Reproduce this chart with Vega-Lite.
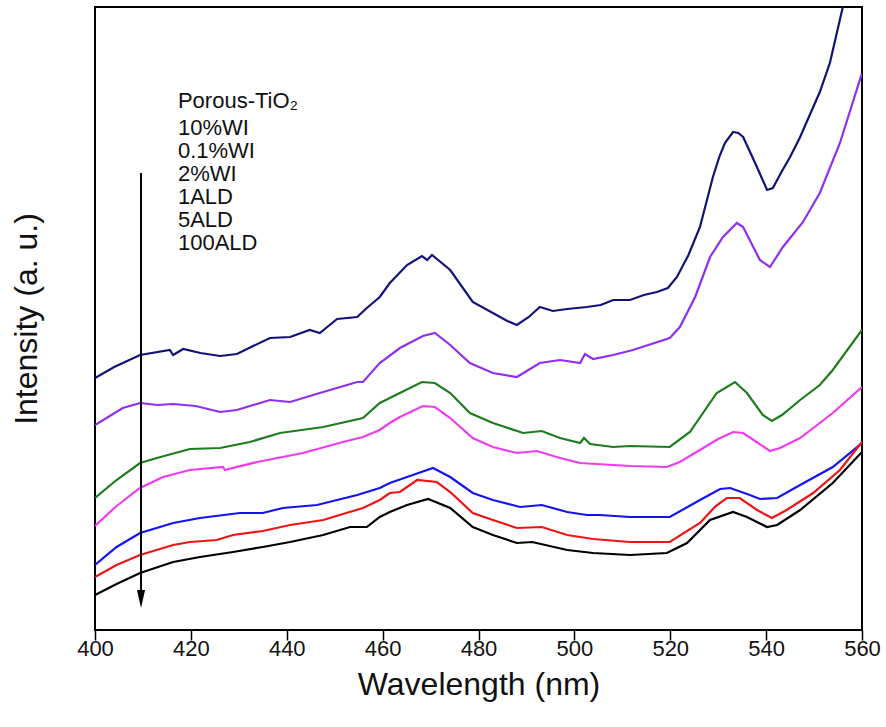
{
  "$schema": "https://vega.github.io/schema/vega-lite/v6.json",
  "autosize": {"type": "none"},
  "padding": {"left": 95, "top": 7, "right": 24, "bottom": 97},
  "width": 767,
  "height": 623,
  "background": "white",
  "config": {
    "font": "Liberation Sans",
    "view": {"stroke": "#000", "strokeWidth": 2}
  },
  "datasets": {
    "spectra": [
      {"s": "Porous-TiO2", "wl": 400, "i": 252}, {"s": "Porous-TiO2", "wl": 404, "i": 263}, {"s": "Porous-TiO2", "wl": 409.4, "i": 275}, {"s": "Porous-TiO2", "wl": 415.6, "i": 280}, {"s": "Porous-TiO2", "wl": 416.3, "i": 275}, {"s": "Porous-TiO2", "wl": 418.4, "i": 281}, {"s": "Porous-TiO2", "wl": 422, "i": 277}, {"s": "Porous-TiO2", "wl": 426.1, "i": 274}, {"s": "Porous-TiO2", "wl": 429.6, "i": 276}, {"s": "Porous-TiO2", "wl": 433, "i": 284}, {"s": "Porous-TiO2", "wl": 436.5, "i": 292}, {"s": "Porous-TiO2", "wl": 440.7, "i": 293}, {"s": "Porous-TiO2", "wl": 444.8, "i": 300}, {"s": "Porous-TiO2", "wl": 446.9, "i": 297}, {"s": "Porous-TiO2", "wl": 450.5, "i": 311}, {"s": "Porous-TiO2", "wl": 454.7, "i": 313}, {"s": "Porous-TiO2", "wl": 456.7, "i": 322}, {"s": "Porous-TiO2", "wl": 459.4, "i": 333}, {"s": "Porous-TiO2", "wl": 461.5, "i": 347}, {"s": "Porous-TiO2", "wl": 465.1, "i": 365}, {"s": "Porous-TiO2", "wl": 468.2, "i": 374}, {"s": "Porous-TiO2", "wl": 469.3, "i": 370}, {"s": "Porous-TiO2", "wl": 470.3, "i": 375}, {"s": "Porous-TiO2", "wl": 474.1, "i": 360}, {"s": "Porous-TiO2", "wl": 478.8, "i": 328}, {"s": "Porous-TiO2", "wl": 483.0, "i": 317}, {"s": "Porous-TiO2", "wl": 486, "i": 309}, {"s": "Porous-TiO2", "wl": 488.0, "i": 305}, {"s": "Porous-TiO2", "wl": 490.5, "i": 313}, {"s": "Porous-TiO2", "wl": 492.8, "i": 323}, {"s": "Porous-TiO2", "wl": 495.5, "i": 319}, {"s": "Porous-TiO2", "wl": 498.5, "i": 321}, {"s": "Porous-TiO2", "wl": 502.6, "i": 323}, {"s": "Porous-TiO2", "wl": 505.5, "i": 325}, {"s": "Porous-TiO2", "wl": 508.1, "i": 330}, {"s": "Porous-TiO2", "wl": 511.6, "i": 330}, {"s": "Porous-TiO2", "wl": 514.5, "i": 335}, {"s": "Porous-TiO2", "wl": 517.2, "i": 338}, {"s": "Porous-TiO2", "wl": 519.5, "i": 342}, {"s": "Porous-TiO2", "wl": 521.4, "i": 353}, {"s": "Porous-TiO2", "wl": 523.8, "i": 375}, {"s": "Porous-TiO2", "wl": 526.2, "i": 403}, {"s": "Porous-TiO2", "wl": 528.9, "i": 453}, {"s": "Porous-TiO2", "wl": 530.3, "i": 474}, {"s": "Porous-TiO2", "wl": 531.4, "i": 487}, {"s": "Porous-TiO2", "wl": 533.1, "i": 498}, {"s": "Porous-TiO2", "wl": 534.2, "i": 497}, {"s": "Porous-TiO2", "wl": 535.2, "i": 493}, {"s": "Porous-TiO2", "wl": 537.8, "i": 466}, {"s": "Porous-TiO2", "wl": 540.2, "i": 440}, {"s": "Porous-TiO2", "wl": 541.4, "i": 442}, {"s": "Porous-TiO2", "wl": 543.2, "i": 458}, {"s": "Porous-TiO2", "wl": 545.0, "i": 473}, {"s": "Porous-TiO2", "wl": 547, "i": 492}, {"s": "Porous-TiO2", "wl": 549.1, "i": 515}, {"s": "Porous-TiO2", "wl": 551.2, "i": 538}, {"s": "Porous-TiO2", "wl": 553.3, "i": 567}, {"s": "Porous-TiO2", "wl": 556.0, "i": 623}, {"s": "Porous-TiO2", "wl": 560, "i": 690},

      {"s": "10%WI", "wl": 400, "i": 205}, {"s": "10%WI", "wl": 405.8, "i": 222}, {"s": "10%WI", "wl": 409.4, "i": 227}, {"s": "10%WI", "wl": 413, "i": 225}, {"s": "10%WI", "wl": 416.3, "i": 226}, {"s": "10%WI", "wl": 421, "i": 224}, {"s": "10%WI", "wl": 426.1, "i": 218}, {"s": "10%WI", "wl": 429.6, "i": 220}, {"s": "10%WI", "wl": 436.5, "i": 230}, {"s": "10%WI", "wl": 440.7, "i": 228}, {"s": "10%WI", "wl": 446.9, "i": 237}, {"s": "10%WI", "wl": 454.7, "i": 248}, {"s": "10%WI", "wl": 455.9, "i": 248}, {"s": "10%WI", "wl": 459.4, "i": 267}, {"s": "10%WI", "wl": 463.6, "i": 282}, {"s": "10%WI", "wl": 468.4, "i": 294}, {"s": "10%WI", "wl": 470.9, "i": 297}, {"s": "10%WI", "wl": 474.1, "i": 285}, {"s": "10%WI", "wl": 478.2, "i": 267}, {"s": "10%WI", "wl": 483.0, "i": 257}, {"s": "10%WI", "wl": 488.0, "i": 253}, {"s": "10%WI", "wl": 492.8, "i": 267}, {"s": "10%WI", "wl": 497.0, "i": 270}, {"s": "10%WI", "wl": 501.2, "i": 267}, {"s": "10%WI", "wl": 502.2, "i": 276}, {"s": "10%WI", "wl": 503.9, "i": 271}, {"s": "10%WI", "wl": 508.1, "i": 275}, {"s": "10%WI", "wl": 512.2, "i": 280}, {"s": "10%WI", "wl": 519.9, "i": 292}, {"s": "10%WI", "wl": 522.0, "i": 303}, {"s": "10%WI", "wl": 525.2, "i": 333}, {"s": "10%WI", "wl": 528.3, "i": 373}, {"s": "10%WI", "wl": 531.0, "i": 393}, {"s": "10%WI", "wl": 533.9, "i": 407}, {"s": "10%WI", "wl": 535.2, "i": 403}, {"s": "10%WI", "wl": 538.7, "i": 370}, {"s": "10%WI", "wl": 540.8, "i": 363}, {"s": "10%WI", "wl": 543.5, "i": 383}, {"s": "10%WI", "wl": 547.7, "i": 408}, {"s": "10%WI", "wl": 551.2, "i": 437}, {"s": "10%WI", "wl": 555.4, "i": 487}, {"s": "10%WI", "wl": 560, "i": 557},

      {"s": "0.1%WI", "wl": 400, "i": 132}, {"s": "0.1%WI", "wl": 404.5, "i": 150}, {"s": "0.1%WI", "wl": 409.4, "i": 167}, {"s": "0.1%WI", "wl": 412.9, "i": 172}, {"s": "0.1%WI", "wl": 419.8, "i": 181}, {"s": "0.1%WI", "wl": 426.1, "i": 182}, {"s": "0.1%WI", "wl": 432.3, "i": 188}, {"s": "0.1%WI", "wl": 438.6, "i": 197}, {"s": "0.1%WI", "wl": 447.6, "i": 203}, {"s": "0.1%WI", "wl": 455.9, "i": 212}, {"s": "0.1%WI", "wl": 459.4, "i": 227}, {"s": "0.1%WI", "wl": 461.5, "i": 232}, {"s": "0.1%WI", "wl": 463.6, "i": 237}, {"s": "0.1%WI", "wl": 468.2, "i": 248}, {"s": "0.1%WI", "wl": 470.9, "i": 247}, {"s": "0.1%WI", "wl": 474.1, "i": 237}, {"s": "0.1%WI", "wl": 478.2, "i": 217}, {"s": "0.1%WI", "wl": 483.0, "i": 207}, {"s": "0.1%WI", "wl": 489.3, "i": 197}, {"s": "0.1%WI", "wl": 493.2, "i": 199}, {"s": "0.1%WI", "wl": 497.0, "i": 192}, {"s": "0.1%WI", "wl": 501.2, "i": 187}, {"s": "0.1%WI", "wl": 502.0, "i": 192}, {"s": "0.1%WI", "wl": 503.3, "i": 186}, {"s": "0.1%WI", "wl": 508.1, "i": 183}, {"s": "0.1%WI", "wl": 511.6, "i": 184}, {"s": "0.1%WI", "wl": 519.9, "i": 183}, {"s": "0.1%WI", "wl": 524.1, "i": 198}, {"s": "0.1%WI", "wl": 529.7, "i": 237}, {"s": "0.1%WI", "wl": 533.5, "i": 248}, {"s": "0.1%WI", "wl": 536.0, "i": 237}, {"s": "0.1%WI", "wl": 539.3, "i": 215}, {"s": "0.1%WI", "wl": 541.2, "i": 209}, {"s": "0.1%WI", "wl": 543.3, "i": 215}, {"s": "0.1%WI", "wl": 547.1, "i": 230}, {"s": "0.1%WI", "wl": 551.2, "i": 245}, {"s": "0.1%WI", "wl": 553.9, "i": 260}, {"s": "0.1%WI", "wl": 560, "i": 300},

      {"s": "2%WI", "wl": 400, "i": 104}, {"s": "2%WI", "wl": 404.5, "i": 124}, {"s": "2%WI", "wl": 409.4, "i": 142}, {"s": "2%WI", "wl": 414.2, "i": 153}, {"s": "2%WI", "wl": 419.8, "i": 160}, {"s": "2%WI", "wl": 426.7, "i": 163}, {"s": "2%WI", "wl": 427.1, "i": 160}, {"s": "2%WI", "wl": 433.8, "i": 168}, {"s": "2%WI", "wl": 443.4, "i": 177}, {"s": "2%WI", "wl": 451.7, "i": 188}, {"s": "2%WI", "wl": 455.9, "i": 193}, {"s": "2%WI", "wl": 459.4, "i": 200}, {"s": "2%WI", "wl": 461.5, "i": 207}, {"s": "2%WI", "wl": 463.6, "i": 213}, {"s": "2%WI", "wl": 468.4, "i": 224}, {"s": "2%WI", "wl": 470.9, "i": 223}, {"s": "2%WI", "wl": 474.1, "i": 212}, {"s": "2%WI", "wl": 478.8, "i": 192}, {"s": "2%WI", "wl": 483.0, "i": 183}, {"s": "2%WI", "wl": 488.0, "i": 177}, {"s": "2%WI", "wl": 492.2, "i": 179}, {"s": "2%WI", "wl": 497.0, "i": 172}, {"s": "2%WI", "wl": 501.2, "i": 167}, {"s": "2%WI", "wl": 508.1, "i": 165}, {"s": "2%WI", "wl": 511.6, "i": 164}, {"s": "2%WI", "wl": 519.3, "i": 163}, {"s": "2%WI", "wl": 522.0, "i": 168}, {"s": "2%WI", "wl": 526.2, "i": 180}, {"s": "2%WI", "wl": 530, "i": 191}, {"s": "2%WI", "wl": 533.1, "i": 198}, {"s": "2%WI", "wl": 535.2, "i": 197}, {"s": "2%WI", "wl": 538, "i": 188}, {"s": "2%WI", "wl": 540.8, "i": 179}, {"s": "2%WI", "wl": 542.9, "i": 182}, {"s": "2%WI", "wl": 547.1, "i": 192}, {"s": "2%WI", "wl": 553.9, "i": 217}, {"s": "2%WI", "wl": 560, "i": 243},

      {"s": "1ALD", "wl": 400, "i": 65}, {"s": "1ALD", "wl": 404.5, "i": 83}, {"s": "1ALD", "wl": 409.4, "i": 97}, {"s": "1ALD", "wl": 416.3, "i": 107}, {"s": "1ALD", "wl": 421.9, "i": 112}, {"s": "1ALD", "wl": 430.2, "i": 117}, {"s": "1ALD", "wl": 435.0, "i": 117}, {"s": "1ALD", "wl": 439.2, "i": 122}, {"s": "1ALD", "wl": 446.3, "i": 125}, {"s": "1ALD", "wl": 454.7, "i": 135}, {"s": "1ALD", "wl": 459.4, "i": 142}, {"s": "1ALD", "wl": 461.5, "i": 147}, {"s": "1ALD", "wl": 465.1, "i": 153}, {"s": "1ALD", "wl": 470.5, "i": 162}, {"s": "1ALD", "wl": 474.1, "i": 153}, {"s": "1ALD", "wl": 478.8, "i": 137}, {"s": "1ALD", "wl": 483.0, "i": 130}, {"s": "1ALD", "wl": 488.7, "i": 123}, {"s": "1ALD", "wl": 493.2, "i": 125}, {"s": "1ALD", "wl": 498.5, "i": 118}, {"s": "1ALD", "wl": 502.6, "i": 115}, {"s": "1ALD", "wl": 505.3, "i": 115}, {"s": "1ALD", "wl": 511.6, "i": 113}, {"s": "1ALD", "wl": 519.9, "i": 113}, {"s": "1ALD", "wl": 526.2, "i": 130}, {"s": "1ALD", "wl": 530.4, "i": 141}, {"s": "1ALD", "wl": 532.5, "i": 142}, {"s": "1ALD", "wl": 536.6, "i": 135}, {"s": "1ALD", "wl": 538.7, "i": 131}, {"s": "1ALD", "wl": 542.3, "i": 132}, {"s": "1ALD", "wl": 547.1, "i": 145}, {"s": "1ALD", "wl": 553.9, "i": 163}, {"s": "1ALD", "wl": 560, "i": 187},

      {"s": "5ALD", "wl": 400, "i": 53}, {"s": "5ALD", "wl": 404.5, "i": 65}, {"s": "5ALD", "wl": 409.4, "i": 75}, {"s": "5ALD", "wl": 416.3, "i": 85}, {"s": "5ALD", "wl": 419.8, "i": 88}, {"s": "5ALD", "wl": 425.4, "i": 90}, {"s": "5ALD", "wl": 428.8, "i": 95}, {"s": "5ALD", "wl": 435.0, "i": 99}, {"s": "5ALD", "wl": 440.7, "i": 105}, {"s": "5ALD", "wl": 447.6, "i": 110}, {"s": "5ALD", "wl": 455.9, "i": 122}, {"s": "5ALD", "wl": 459.4, "i": 130}, {"s": "5ALD", "wl": 461.5, "i": 137}, {"s": "5ALD", "wl": 463.6, "i": 138}, {"s": "5ALD", "wl": 467.2, "i": 150}, {"s": "5ALD", "wl": 471.3, "i": 148}, {"s": "5ALD", "wl": 474.1, "i": 138}, {"s": "5ALD", "wl": 478.8, "i": 117}, {"s": "5ALD", "wl": 483.0, "i": 110}, {"s": "5ALD", "wl": 488.0, "i": 102}, {"s": "5ALD", "wl": 493.2, "i": 103}, {"s": "5ALD", "wl": 498.5, "i": 95}, {"s": "5ALD", "wl": 503.9, "i": 91}, {"s": "5ALD", "wl": 511.6, "i": 88}, {"s": "5ALD", "wl": 519.9, "i": 88}, {"s": "5ALD", "wl": 526.2, "i": 107}, {"s": "5ALD", "wl": 529.5, "i": 124}, {"s": "5ALD", "wl": 531.8, "i": 132}, {"s": "5ALD", "wl": 534.5, "i": 132}, {"s": "5ALD", "wl": 538.1, "i": 120}, {"s": "5ALD", "wl": 541.2, "i": 112}, {"s": "5ALD", "wl": 544.3, "i": 120}, {"s": "5ALD", "wl": 549.8, "i": 137}, {"s": "5ALD", "wl": 555.4, "i": 160}, {"s": "5ALD", "wl": 560, "i": 188},

      {"s": "100ALD", "wl": 400, "i": 35}, {"s": "100ALD", "wl": 404.5, "i": 46}, {"s": "100ALD", "wl": 409.4, "i": 57}, {"s": "100ALD", "wl": 416.3, "i": 68}, {"s": "100ALD", "wl": 421.9, "i": 73}, {"s": "100ALD", "wl": 428.8, "i": 78}, {"s": "100ALD", "wl": 435.0, "i": 83}, {"s": "100ALD", "wl": 440.7, "i": 88}, {"s": "100ALD", "wl": 447.6, "i": 95}, {"s": "100ALD", "wl": 453.2, "i": 103}, {"s": "100ALD", "wl": 456.7, "i": 103}, {"s": "100ALD", "wl": 459.4, "i": 113}, {"s": "100ALD", "wl": 461.5, "i": 118}, {"s": "100ALD", "wl": 465.1, "i": 125}, {"s": "100ALD", "wl": 469.5, "i": 131}, {"s": "100ALD", "wl": 474.1, "i": 122}, {"s": "100ALD", "wl": 478.8, "i": 103}, {"s": "100ALD", "wl": 483.0, "i": 95}, {"s": "100ALD", "wl": 488.0, "i": 87}, {"s": "100ALD", "wl": 491.2, "i": 88}, {"s": "100ALD", "wl": 498.5, "i": 80}, {"s": "100ALD", "wl": 503.9, "i": 77}, {"s": "100ALD", "wl": 511.6, "i": 75}, {"s": "100ALD", "wl": 519.3, "i": 77}, {"s": "100ALD", "wl": 523.5, "i": 87}, {"s": "100ALD", "wl": 528.3, "i": 110}, {"s": "100ALD", "wl": 533.1, "i": 118}, {"s": "100ALD", "wl": 536.0, "i": 113}, {"s": "100ALD", "wl": 540.2, "i": 103}, {"s": "100ALD", "wl": 542.3, "i": 105}, {"s": "100ALD", "wl": 547.1, "i": 120}, {"s": "100ALD", "wl": 553.9, "i": 147}, {"s": "100ALD", "wl": 560, "i": 178}
    ],
    "labels": [
      {"wl": 417.3, "i": 529, "t": "Porous-TiO₂"},
      {"wl": 417.3, "i": 502, "t": "10%WI"},
      {"wl": 417.3, "i": 479, "t": "0.1%WI"},
      {"wl": 417.3, "i": 456, "t": "2%WI"},
      {"wl": 417.3, "i": 433, "t": "1ALD"},
      {"wl": 417.3, "i": 410, "t": "5ALD"},
      {"wl": 417.3, "i": 387, "t": "100ALD"}
    ],
    "arrow": [
      {"wl": 409.6, "top": 457, "bottom": 40, "head": 31}
    ]
  },
  "encoding": {
    "x": {
      "field": "wl", "type": "quantitative",
      "scale": {"domain": [400, 560], "nice": false, "zero": false},
      "axis": {
        "title": "Wavelength (nm)", "values": [400, 420, 440, 460, 480, 500, 520, 540, 560],
        "format": "d", "grid": false, "domain": false,
        "tickSize": 10, "tickWidth": 1.5, "tickColor": "#000",
        "labelFontSize": 22, "labelColor": "#111", "labelPadding": -2, "labelFlush": false,
        "titleFontSize": 32, "titleFontWeight": "normal", "titleColor": "#111", "titlePadding": 10
      }
    }
  },
  "layer": [
    {
      "data": {"name": "spectra"},
      "mark": {"type": "line", "clip": true, "strokeWidth": 2.2, "interpolate": "linear"},
      "encoding": {
        "y": {
          "field": "i", "type": "quantitative",
          "scale": {"domain": [0, 623], "nice": false, "zero": false},
          "axis": {
            "title": "Intensity (a. u.)", "labels": false, "ticks": false, "domain": false, "grid": false,
            "titleFontSize": 32, "titleFontWeight": "normal", "titleColor": "#111", "titlePadding": 52
          }
        },
        "color": {
          "field": "s", "type": "nominal", "legend": null,
          "scale": {
            "domain": ["Porous-TiO2", "10%WI", "0.1%WI", "2%WI", "1ALD", "5ALD", "100ALD"],
            "range": ["#12127a", "#8f30f0", "#1e7d1e", "#f03cf0", "#1414f0", "#f01414", "#000000"]
          }
        }
      }
    },
    {
      "data": {"name": "labels"},
      "mark": {"type": "text", "align": "left", "baseline": "middle", "fontSize": 22, "color": "#111"},
      "encoding": {
        "y": {"field": "i", "type": "quantitative"},
        "text": {"field": "t"}
      }
    },
    {
      "data": {"name": "arrow"},
      "mark": {"type": "rule", "strokeWidth": 2, "color": "#000"},
      "encoding": {
        "y": {"field": "top", "type": "quantitative"},
        "y2": {"field": "bottom"}
      }
    },
    {
      "data": {"name": "arrow"},
      "mark": {"type": "point", "filled": true, "color": "#000", "opacity": 1, "size": 324, "shape": "M-0.45,-1L0.45,-1L0,1Z"},
      "encoding": {
        "y": {"field": "head", "type": "quantitative"}
      }
    }
  ]
}
